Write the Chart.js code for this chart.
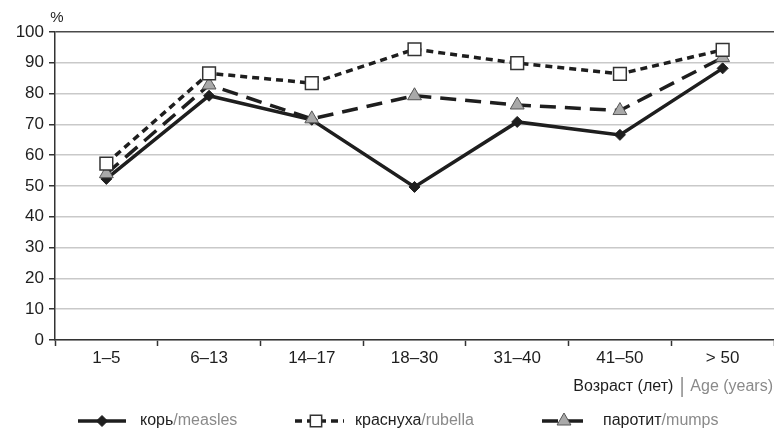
<!DOCTYPE html>
<html lang="ru">
<head>
    <meta charset="UTF-8">
    <title>Возраст (лет)</title>
    <script src="https://cdn.jsdelivr.net/npm/chart.js"></script>
    <style>
        html, body { margin: 0; padding: 0; background: #fff; }
        .chart-box { position: relative; width: 774px; height: 429px; }
    </style>
</head>
<body>
    <div class="chart-box">
        <canvas id="myChart" width="774" height="429"></canvas>
    </div>

    <script>
// data
const categories = ['1–5', '6–13', '14–17', '18–30', '31–40', '41–50', '> 50'];
const measles = [52.3, 79.3, 71.5, 49.7, 70.8, 66.6, 88.2];
const rubella = [57.3, 86.6, 83.4, 94.4, 89.9, 86.4, 94.2];
const mumps = [54.0, 82.8, 71.8, 79.3, 76.3, 74.5, 91.7];
const namesRu = ['корь', 'краснуха', 'паротит'];
const namesEn = ['measles', 'rubella', 'mumps'];
const yTicks = [0, 10, 20, 30, 40, 50, 60, 70, 80, 90, 100];

const FONT = '"Liberation Sans", Arial, sans-serif';
const DARK = '#1e1e1e';
const GREY = '#8a8a8a';

// legend + axis title + "%" drawn on the canvas
const extras = {
    id: 'extras',
    afterDraw(chart) {
        const ctx = chart.ctx;
        ctx.save();
        ctx.textBaseline = 'middle';

        // "%" above y axis
        ctx.font = '15px ' + FONT;
        ctx.fillStyle = DARK;
        ctx.textAlign = 'center';
        ctx.fillText('%', 57, 18);

        // axis title, right aligned, two colours
        ctx.font = '16px ' + FONT;
        ctx.textAlign = 'left';
        const ru = 'Возраст (лет)';
        const en = 'Age (years)';
        const wEn = ctx.measureText(en).width;
        const wRu = ctx.measureText(ru).width;
        let x = 773 - wEn;
        ctx.fillStyle = GREY;
        ctx.fillText(en, x, 387);
        ctx.fillRect(x - 9, 377, 1.5, 20);
        ctx.fillStyle = DARK;
        ctx.fillText(ru, x - 17 - wRu, 387);

        // legend
        const ly = 421;
        const items = [
            { x0: 78, x1: 126, mx: 102, tx: 140, shrink: 0 },
            { x0: 295, x1: 344, mx: 316, tx: 355, shrink: 1 },
            { x0: 542, x1: 590, mx: 564, tx: 603, shrink: 0 }
        ];
        items.forEach((it, i) => {
            const ds = chart.data.datasets[i];
            ctx.strokeStyle = ds.borderColor;
            ctx.lineWidth = ds.borderWidth;
            ctx.setLineDash(ds.borderDash || []);
            ctx.beginPath();
            ctx.moveTo(it.x0, ly);
            ctx.lineTo(it.x1, ly);
            ctx.stroke();
            ctx.setLineDash([]);
            ctx.fillStyle = ds.pointBackgroundColor;
            ctx.strokeStyle = ds.pointBorderColor;
            ctx.lineWidth = ds.pointBorderWidth;
            Chart.helpers.drawPoint(ctx, {
                pointStyle: ds.pointStyle,
                radius: ds.pointRadius - it.shrink,
                borderWidth: ds.pointBorderWidth,
                rotation: 0
            }, it.mx, ly);

            ctx.font = '16px ' + FONT;
            ctx.fillStyle = DARK;
            ctx.fillText(namesRu[i], it.tx, ly);
            const w = ctx.measureText(namesRu[i]).width;
            ctx.fillStyle = GREY;
            ctx.fillText('/' + namesEn[i], it.tx + w, ly);
        });
        ctx.restore();
    }
};

var ctx = document.getElementById('myChart').getContext('2d');
var myChart = new Chart(ctx, {
    type: 'line',
    data: {
        labels: categories,
        datasets: [
            {
                label: namesRu[0] + '/' + namesEn[0],
                data: measles,
                borderColor: DARK,
                borderWidth: 3.5,
                pointStyle: 'rectRot',
                pointRadius: 5.5,
                pointBackgroundColor: DARK,
                pointBorderColor: DARK,
                pointBorderWidth: 1,
                tension: 0,
                order: 3
            },
            {
                label: namesRu[1] + '/' + namesEn[1],
                data: rubella,
                borderColor: DARK,
                borderWidth: 3.5,
                borderDash: [7, 5],
                pointStyle: 'rect',
                pointRadius: 9,
                pointBackgroundColor: '#ffffff',
                pointBorderColor: '#333333',
                pointBorderWidth: 1.5,
                tension: 0,
                order: 1
            },
            {
                label: namesRu[2] + '/' + namesEn[2],
                data: mumps,
                borderColor: DARK,
                borderWidth: 3.5,
                borderDash: [16, 9],
                pointStyle: 'triangle',
                pointRadius: 8,
                pointBackgroundColor: '#a9a9a9',
                pointBorderColor: '#555555',
                pointBorderWidth: 1,
                tension: 0,
                order: 2
            }
        ]
    },
    options: {
        responsive: false,
        animation: false,
        devicePixelRatio: 1,
        layout: { autoPadding: false, padding: { top: 32, right: 0, bottom: 0, left: 0 } },
        plugins: {
            legend: { display: false },
            tooltip: { enabled: false }
        },
        scales: {
            x: {
                offset: true,
                afterFit(scale) {
                    scale.height = 89;
                },
                grid: {
                    offset: true,
                    drawOnChartArea: false,
                    drawTicks: true,
                    tickLength: 6,
                    tickColor: '#333',
                    tickWidth: 1.5
                },
                border: { display: true, color: '#333', width: 1.5 },
                ticks: {
                    padding: 2,
                    color: DARK,
                    font: { family: FONT, size: 17 },
                    maxRotation: 0
                }
            },
            y: {
                min: 0,
                max: 100,
                afterFit(scale) { scale.width = 55; },
                afterBuildTicks(scale) { scale.ticks = yTicks.map(v => ({ value: v })); },
                grid: {
                    color: (c) => c.tick && c.tick.value === 100 ? '#4a4a4a' : '#c9c9c9',
                    lineWidth: 1.5,
                    tickLength: 6,
                    tickColor: '#333',
                    tickWidth: 1.5
                },
                border: { display: true, color: '#333', width: 1.5 },
                ticks: {
                    padding: 5,
                    color: DARK,
                    font: { family: FONT, size: 17 }
                }
            }
        }
    },
    plugins: [extras]
});
    </script>
</body>
</html>
